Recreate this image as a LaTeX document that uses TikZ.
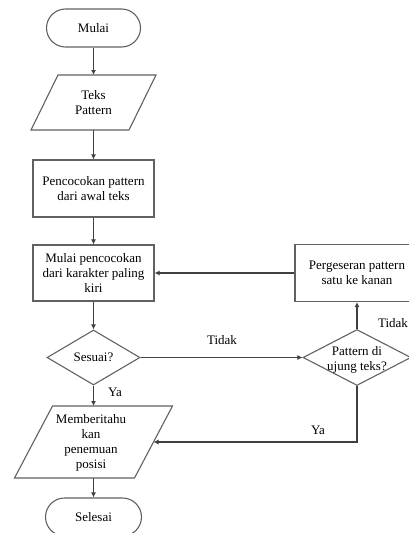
\documentclass[tikz,border=0pt]{standalone}
\usepackage{fontspec}
\setmainfont{Liberation Serif}
\usetikzlibrary{shapes.geometric,arrows.meta}
\begin{document}
\begin{tikzpicture}[x=1pt,y=-1pt,
  font=\fontsize{13}{15}\selectfont,
  line/.style={draw=black!62, line width=1.1pt},
  arr/.style={draw=black!75, line width=1.1pt, -{Latex[length=5pt,width=5pt]}},
  term/.style={line, rounded corners=19pt, minimum width=94pt, minimum height=38pt, inner sep=0pt},
  proc/.style={line, minimum width=121pt, minimum height=57pt, align=center, inner sep=0pt},
  dec/.style={line, diamond, inner sep=0pt},
  io/.style={align=center, inner sep=0pt},
  lbl/.style={inner sep=0pt}]
\useasboundingbox (0,0) rectangle (409,533);
\clip (0,0) rectangle (409,533);
% start
\node[term] (mulai) at (93.5,28) {Mulai};
% input
\node[io, minimum width=97pt, minimum height=55pt] (teks) at (93.5,102.5) {Teks\\Pattern};
\draw[line] (58,75) -- (156,75) -- (129,130) -- (31,130) -- cycle;
% process 1
\node[proc] (cocok) at (93.5,188.5) {Pencocokan pattern\\dari awal teks};
% process 2
\node[proc, minimum height=56pt] (mulaicocok) at (93.5,273) {Mulai pencocokan\\dari karakter paling\\kiri};
% decision 1
\node[dec, minimum width=93pt, minimum height=55pt, label={[lbl]center:Sesuai?}] (sesuai) at (93.5,357.5) {};
% output
\node[io, minimum width=121pt, minimum height=72pt] (beri) at (91,442.5) {Memberitahu\\kan\\penemuan\\posisi};
\draw[line] (52.5,406) -- (172.5,406) -- (134.5,478) -- (14.5,478) -- cycle;
% end
\node[term, minimum width=96pt] (selesai) at (93.5,517) {Selesai};
% shift box
\node[proc, minimum width=124pt] (geser) at (357,273) {Pergeseran pattern\\satu ke kanan};
% decision 2
\node[dec, minimum width=108pt, minimum height=56pt, label={[lbl,align=center,yshift=-2pt]center:Pattern di\\ujung teks?}] (ujung) at (357,357.5) {};
\coordinate (beriE) at (153.5,442);
% connectors
\draw[arr] (mulai.south) -- (93.5,75);
\draw[arr] (93.5,130) -- (cocok.north);
\draw[arr] (cocok.south) -- (mulaicocok.north);
\draw[arr] (mulaicocok.south) -- (sesuai.north);
\draw[arr] (sesuai.south) -- (93.5,406);
\draw[arr] (93.5,478) -- (selesai.north);
\draw[arr] (sesuai.east) -- (ujung.west);
\draw[arr] (ujung.north) -- (geser.south);
\draw[arr] (geser.west) -- (mulaicocok.east);
\draw[arr] (ujung.south) |- (beriE);
% labels
\node[lbl] (ya1) at (115,392) {Ya};
\node[lbl] (tidak1) at (222,340) {Tidak};
\node[lbl] (tidak2) at (393,323) {Tidak};
\node[lbl] (ya2) at (318,430) {Ya};
\end{tikzpicture}
\end{document}
